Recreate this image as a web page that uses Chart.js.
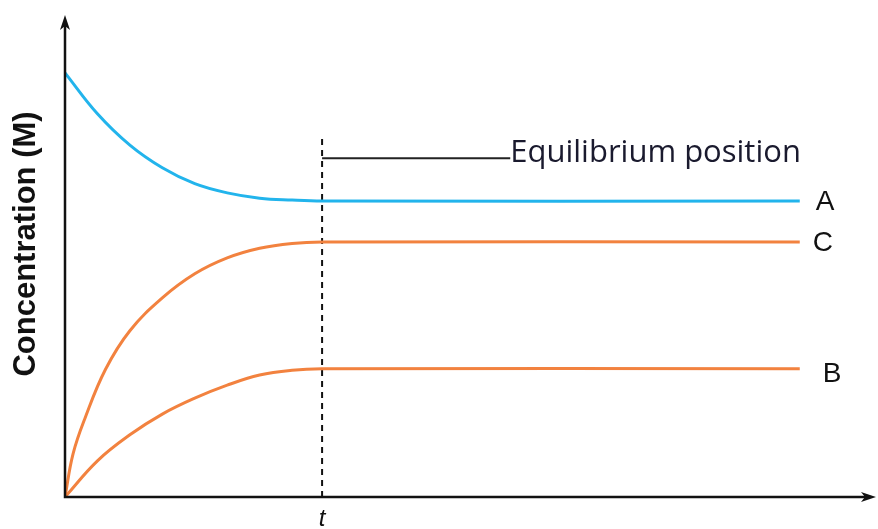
<!DOCTYPE html>
<html>
<head>
<meta charset="utf-8">
<style>
  body { margin: 0; background: #fff; }
  #chart { display: block; }
</style>
<script src="https://cdn.jsdelivr.net/npm/chart.js@4.4.1/dist/chart.umd.min.js"></script>
</head>
<body>
<canvas id="chart" width="878" height="529"></canvas>
<script>
// time where the system reaches equilibrium
var tEq = 31.7;
var tEnd = 90.6;

// curves (x = time, y = concentration, both 0..100)
var timeA = [0, 4, 8, 12, 16, 20, 24, 28, tEq, tEnd];
var concA = [88.0, 79.5, 73.0, 68.3, 65.0, 63.1, 62.0, 61.6, 61.4, 61.4];

var timeC = [0, 1, 2.5, 5, 8, 12, 16, 20, 24, 28, tEq, tEnd];
var concC = [0, 9.0, 16.5, 26.5, 34.5, 41.3, 46.3, 49.6, 51.6, 52.6, 52.9, 52.9];

var timeB = [0, 4, 8, 12, 16, 20, 24, 28, tEq, tEnd];
var concB = [0, 7.5, 12.9, 17.2, 20.5, 23.2, 25.3, 26.3, 26.6, 26.6];

// equilibrium marker: dashed line up to 74.5, pointer line at 70.3 to x=54.9
var eqTop = 74.5;
var pointerY = 70.3;
var pointerEnd = 54.9;

var labels = ["A", "C", "B"];
var blue = "#22b4ec";
var orange = "#f2823f";

function pts(xs, ys) {
  var out = [];
  for (var i = 0; i < xs.length; i++) out.push({ x: xs[i], y: ys[i] });
  return out;
}

function curve(label, xs, ys, color) {
  return {
    label: label,
    data: pts(xs, ys),
    borderColor: color,
    borderWidth: 3,
    pointRadius: 0,
    tension: 0.4,
  };
}

// axes with arrow heads and the text notes
var annotate = {
  id: "annotate",
  afterDatasetsDraw: function (chart) {
    var ctx = chart.ctx;
    var a = chart.chartArea;
    var x = chart.scales.x, y = chart.scales.y;
    var x0 = x.getPixelForValue(0), y0 = y.getPixelForValue(0);
    ctx.save();
    ctx.strokeStyle = "#111";
    ctx.fillStyle = "#111";
    ctx.lineWidth = 2.5;
    ctx.beginPath();
    ctx.moveTo(x0, a.top + 8);
    ctx.lineTo(x0, y0);
    ctx.lineTo(a.right - 8, y0);
    ctx.stroke();
    // arrow heads
    ctx.beginPath();
    ctx.moveTo(x0, a.top);
    ctx.lineTo(x0 - 5, a.top + 15);
    ctx.lineTo(x0, a.top + 11);
    ctx.lineTo(x0 + 5, a.top + 15);
    ctx.closePath();
    ctx.fill();
    ctx.beginPath();
    ctx.moveTo(a.right, y0);
    ctx.lineTo(a.right - 15, y0 - 5);
    ctx.lineTo(a.right - 11, y0);
    ctx.lineTo(a.right - 15, y0 + 5);
    ctx.closePath();
    ctx.fill();

    // y axis name
    ctx.save();
    ctx.translate(26, 244);
    ctx.rotate(-Math.PI / 2);
    ctx.textAlign = "center";
    ctx.textBaseline = "middle";
    ctx.font = "bold 31px 'Liberation Sans', Arial, sans-serif";
    ctx.fillText("Concentration (M)", 0, 0);
    ctx.restore();

    // curve names next to line ends
    ctx.font = "28px 'Liberation Sans', Arial, sans-serif";
    ctx.textBaseline = "middle";
    ctx.textAlign = "left";
    var ends = [[concA, 16], [concC, 13], [concB, 23]];
    for (var i = 0; i < labels.length; i++) {
      var v = ends[i][0][ends[i][0].length - 1];
      var dy = i == 2 ? 5 : 1;
      ctx.fillText(labels[i], x.getPixelForValue(tEnd) + ends[i][1], y.getPixelForValue(v) + dy);
    }
    ctx.font = "31px 'Open Sans', 'Noto Sans', sans-serif";
    ctx.fillStyle = "#1a1a2e";
    ctx.fillText("Equilibrium position", x.getPixelForValue(pointerEnd), y.getPixelForValue(pointerY) - 5);
    ctx.restore();
  },
};

new Chart(document.getElementById("chart"), {
  type: "line",
  data: {
    datasets: [
      curve("A", timeA, concA, blue),
      curve("C", timeC, concC, orange),
      curve("B", timeB, concB, orange),
      {
        label: "equilibrium",
        data: pts([tEq, tEq], [0, eqTop]),
        borderColor: "#111",
        borderWidth: 2,
        borderDash: [6, 5],
        pointRadius: 0,
      },
      {
        label: "pointer",
        data: pts([tEq, pointerEnd], [pointerY, pointerY]),
        borderColor: "#222",
        borderWidth: 2,
        pointRadius: 0,
      },
    ],
  },
  options: {
    responsive: false,
    animation: false,
    layout: { padding: { top: 15, right: 2 } },
    plugins: { legend: { display: false }, tooltip: { enabled: false } },
    scales: {
      x: {
        type: "linear",
        min: 0,
        max: 100,
        grid: { display: false, drawTicks: false },
        border: { display: false },
        afterBuildTicks: function (s) { s.ticks = [{ value: tEq }]; },
        afterFit: function (s) { s.height = 32; },
        ticks: {
          autoSkip: false,
          maxRotation: 0,
          padding: 8,
          color: "#111",
          font: { family: "'Liberation Sans', Arial, sans-serif", size: 24, style: "italic" },
          callback: function () { return "t"; },
        },
      },
      y: {
        min: 0,
        max: 100,
        grid: { display: false, drawTicks: false },
        border: { display: false },
        ticks: { display: false },
        afterFit: function (s) { s.width = 65; },
      },
    },
  },
  plugins: [annotate],
});
</script>
</body>
</html>
